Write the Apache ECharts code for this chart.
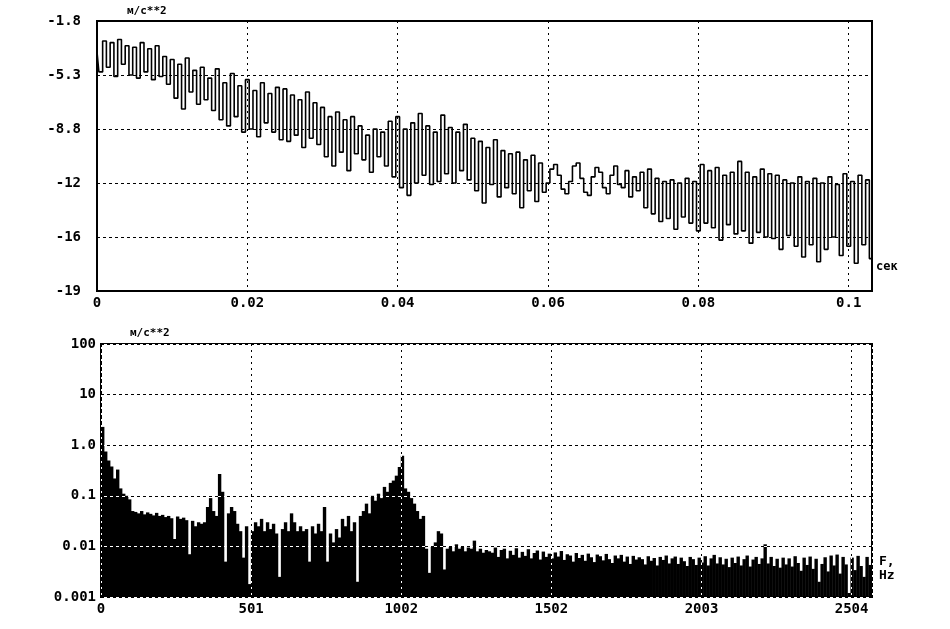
<!DOCTYPE html>
<html>
<head>
<meta charset="utf-8">
<script src="https://cdn.jsdelivr.net/npm/echarts@6/dist/echarts.min.js"></script>
</head>
<body style="margin:0;background:#fff;">
<div id="main" style="width:950px;height:629px;"></div>
<script>
// time signal, m/s^2, one sample every 0.0005 s
var sampleStep = 0.0005;
var accel = [
  -3.8,-5.1,-3.1,-4.8,-3.2,-5.4,-3.0,-4.6,-3.4,-5.3,
  -3.5,-5.5,-3.2,-5.1,-3.6,-5.6,-3.4,-5.4,-4.1,-5.9,
  -4.3,-6.8,-4.6,-7.5,-4.2,-6.4,-5.0,-7.2,-4.8,-6.9,
  -5.5,-7.6,-4.9,-8.2,-5.8,-8.6,-5.2,-8.0,-6.0,-9.0,
  -5.6,-8.8,-6.3,-9.3,-5.8,-8.4,-6.5,-9.0,-6.1,-9.5,
  -6.2,-9.6,-6.6,-9.2,-6.9,-10.0,-6.4,-9.4,-7.1,-9.8,
  -7.4,-10.6,-8.0,-11.2,-7.7,-10.3,-8.2,-11.5,-8.0,-10.4,
  -8.6,-10.8,-9.2,-11.6,-8.8,-10.6,-9.0,-11.2,-8.3,-11.9,
  -8.0,-12.6,-8.8,-13.1,-8.4,-12.3,-7.8,-11.8,-8.6,-12.4,
  -9.0,-12.2,-7.9,-11.7,-8.7,-12.3,-9.0,-11.5,-8.5,-12.1,
  -9.4,-12.8,-9.6,-13.6,-10.0,-12.4,-9.5,-13.2,-10.2,-12.6,
  -10.4,-13.0,-10.3,-13.9,-10.8,-12.8,-10.5,-13.5,-11.0,-12.9,
  -12.3,-11.4,-11.1,-11.8,-12.7,-13.0,-12.2,-11.2,-11.0,-12.0,
  -12.9,-13.1,-11.9,-11.3,-11.6,-12.6,-13.0,-11.8,-11.2,-12.4,
  -12.6,-11.5,-13.2,-11.9,-12.8,-11.6,-13.9,-11.4,-14.3,-12.0,
  -14.8,-12.2,-14.6,-12.1,-15.3,-12.3,-14.5,-12.0,-14.9,-12.2,
  -15.4,-11.1,-14.9,-11.5,-15.2,-11.3,-16.0,-11.8,-15.0,-11.6,
  -15.6,-10.9,-15.4,-11.6,-16.2,-11.9,-15.5,-11.4,-15.8,-11.7,
  -15.9,-11.8,-16.6,-12.1,-15.7,-12.3,-16.4,-11.9,-17.1,-12.2,
  -16.3,-12.0,-17.4,-12.3,-16.6,-11.9,-15.8,-12.4,-17.0,-11.7,
  -16.4,-12.2,-17.5,-11.8,-16.3,-12.1,-17.2
];
var timeTickLabels = ['0', '0.02', '0.04', '0.06', '0.08', '0.1'];
var accelTickLabels = ['-19', '-16', '-12', '-8.8', '-5.3', '-1.8'];

// spectrum, one bin every 10 Hz
var freqStep = 10;
var spectrum = [
  2.3,0.75,0.5,0.38,0.22,0.33,0.14,0.11,0.1,0.085,
  0.05,0.048,0.045,0.05,0.043,0.047,0.044,0.041,0.046,0.04,
  0.042,0.038,0.04,0.036,0.014,0.039,0.035,0.037,0.033,0.007,
  0.032,0.025,0.03,0.028,0.03,0.06,0.09,0.05,0.04,0.27,
  0.12,0.005,0.045,0.06,0.05,0.028,0.02,0.006,0.025,0.0018,
  0.02,0.03,0.025,0.035,0.02,0.03,0.022,0.028,0.018,0.0025,
  0.022,0.03,0.02,0.045,0.03,0.02,0.025,0.02,0.022,0.005,
  0.025,0.018,0.028,0.02,0.06,0.005,0.018,0.012,0.022,0.015,
  0.035,0.025,0.04,0.02,0.03,0.002,0.04,0.05,0.07,0.045,
  0.1,0.08,0.11,0.09,0.15,0.12,0.18,0.2,0.25,0.37,
  0.62,0.14,0.12,0.09,0.07,0.05,0.035,0.04,0.009,0.003,
  0.01,0.012,0.02,0.018,0.0035,0.009,0.01,0.008,0.011,0.009,
  0.01,0.008,0.0095,0.009,0.013,0.008,0.009,0.0075,0.0085,0.008,
  0.0075,0.0095,0.0062,0.0085,0.009,0.0058,0.0082,0.0068,0.0092,0.006,
  0.0078,0.0065,0.0088,0.0058,0.0074,0.0083,0.0055,0.0079,0.0062,0.0072,
  0.0058,0.0076,0.0063,0.0081,0.0054,0.007,0.0066,0.005,0.0074,0.0059,
  0.0068,0.0052,0.0072,0.0061,0.0049,0.0069,0.0064,0.0053,0.0071,0.0056,
  0.0047,0.0066,0.0058,0.0068,0.005,0.0063,0.0045,0.0065,0.0055,0.0061,
  0.0056,0.0044,0.0064,0.0052,0.0059,0.0042,0.0062,0.0054,0.0066,0.0046,
  0.0058,0.0063,0.0045,0.006,0.0051,0.0041,0.0062,0.0056,0.0043,0.006,
  0.0048,0.0064,0.0042,0.0058,0.0068,0.0046,0.0061,0.0044,0.0057,0.0039,
  0.006,0.0047,0.0063,0.0042,0.0056,0.0066,0.004,0.0055,0.0062,0.0045,
  0.0058,0.011,0.0046,0.0062,0.0041,0.0057,0.0038,0.006,0.0044,0.0058,
  0.004,0.0064,0.0047,0.0033,0.006,0.0043,0.0063,0.0036,0.0057,0.002,
  0.0045,0.0061,0.0032,0.0066,0.0042,0.0069,0.0029,0.0062,0.0044,0.0012,
  0.006,0.0034,0.0065,0.0041,0.0025,0.0062,0.0043
];
var freqTickLabels = ['0', '501', '1002', '1502', '2003', '2504'];
var ampTickLabels = ['0.001', '0.01', '0.1', '1.0', '10', '100'];

var labelFont = {
  color: '#000',
  fontFamily: 'DejaVu Sans Mono',
  fontWeight: 'bold',
  fontSize: 14
};

function pick(list, idx) {
  var k = Math.round(idx);
  if (Math.abs(idx - k) > 0.01 || k < 0 || k >= list.length) return '';
  return list[k];
}

var chart = echarts.init(document.getElementById('main'), null, { renderer: 'canvas' });

var hidden = { show: false };

var option = {
  animation: false,
  backgroundColor: '#fff',
  grid: [
    { left: 97, top: 21, width: 775, height: 270, show: true, borderColor: '#000', borderWidth: 2 },
    { left: 101, top: 344, width: 771, height: 253, show: true, borderColor: '#000', borderWidth: 2 },
    { left: 101, top: 344, width: 771, height: 253 }
  ],
  xAxis: [
    {
      gridIndex: 0, type: 'value', min: 0, max: 0.1031, interval: 0.02,
      axisLine: hidden, axisTick: hidden,
      axisLabel: Object.assign({ margin: 5, formatter: function (v) { return pick(timeTickLabels, v / 0.02); } }, labelFont),
      splitLine: { show: true, lineStyle: { color: '#000', width: 1, type: [2, 4] } }
    },
    {
      gridIndex: 1, type: 'value', min: 0, max: 2572, interval: 500.8,
      axisLine: hidden, axisTick: hidden,
      axisLabel: Object.assign({ margin: 5, formatter: function (v) { return pick(freqTickLabels, v / 500.8); } }, labelFont),
      splitLine: { show: true, lineStyle: { color: '#000', width: 1, type: [2, 4] } }
    },
    {
      gridIndex: 2, type: 'value', min: 0, max: 2572, interval: 500.8, z: 10,
      axisLine: hidden, axisTick: hidden, axisLabel: hidden,
      splitLine: { show: true, lineStyle: { color: '#fff', width: 1, type: [2, 4], dashOffset: 3 } }
    }
  ],
  yAxis: [
    {
      gridIndex: 0, type: 'value', min: -19.3, max: -1.8, interval: 3.5,
      axisLine: hidden, axisTick: hidden,
      axisLabel: Object.assign({ margin: 16, formatter: function (v) { return pick(accelTickLabels, (v + 19.3) / 3.5); } }, labelFont),
      splitLine: { show: true, lineStyle: { color: '#000', width: 1, type: [3, 3] } }
    },
    {
      gridIndex: 1, type: 'log', logBase: 10, min: 0.001, max: 100,
      axisLine: hidden, axisTick: hidden,
      axisLabel: Object.assign({ margin: 5, formatter: function (v) { return pick(ampTickLabels, Math.log10(v) + 3); } }, labelFont),
      splitLine: { show: true, lineStyle: { color: '#000', width: 1, type: [3, 3] } }
    },
    {
      gridIndex: 2, type: 'log', logBase: 10, min: 0.001, max: 100, z: 10,
      axisLine: hidden, axisTick: hidden, axisLabel: hidden,
      splitLine: { show: true, lineStyle: { color: '#fff', width: 1, type: [3, 3], dashOffset: 3 } }
    }
  ],
  graphic: [
    { type: 'text', left: 127, top: 6, style: { text: 'м/с**2', font: 'bold 11px "DejaVu Sans Mono"', fill: '#000' } },
    { type: 'text', left: 130, top: 328, style: { text: 'м/с**2', font: 'bold 11px "DejaVu Sans Mono"', fill: '#000' } },
    { type: 'text', left: 876, top: 261, style: { text: 'сек', font: 'bold 12px "DejaVu Sans Mono"', fill: '#000' } },
    { type: 'text', left: 879, top: 555, style: { text: 'F,', font: 'bold 13px "DejaVu Sans Mono"', fill: '#000' } },
    { type: 'text', left: 879, top: 569, style: { text: 'Hz', font: 'bold 13px "DejaVu Sans Mono"', fill: '#000' } }
  ],
  series: [
    {
      type: 'line',
      xAxisIndex: 0,
      yAxisIndex: 0,
      step: 'middle',
      showSymbol: false,
      lineStyle: { color: '#000', width: 1.6 },
      data: accel.map(function (v, i) { return [i * sampleStep, v]; })
    },
    {
      type: 'custom',
      xAxisIndex: 1,
      yAxisIndex: 1,
      clip: true,
      data: spectrum.map(function (v, i) { return [i * freqStep, v]; }),
      renderItem: function (params, api) {
        var f = api.value(0);
        var top = api.coord([f, api.value(1)]);
        var base = api.coord([f + freqStep, 0.001]);
        return {
          type: 'rect',
          shape: { x: top[0], y: top[1], width: base[0] - top[0] + 0.4, height: base[1] - top[1] },
          style: { fill: '#000' }
        };
      }
    }
  ]
};

chart.setOption(option);
window.addEventListener('resize', chart.resize);
</script>
</body>
</html>
